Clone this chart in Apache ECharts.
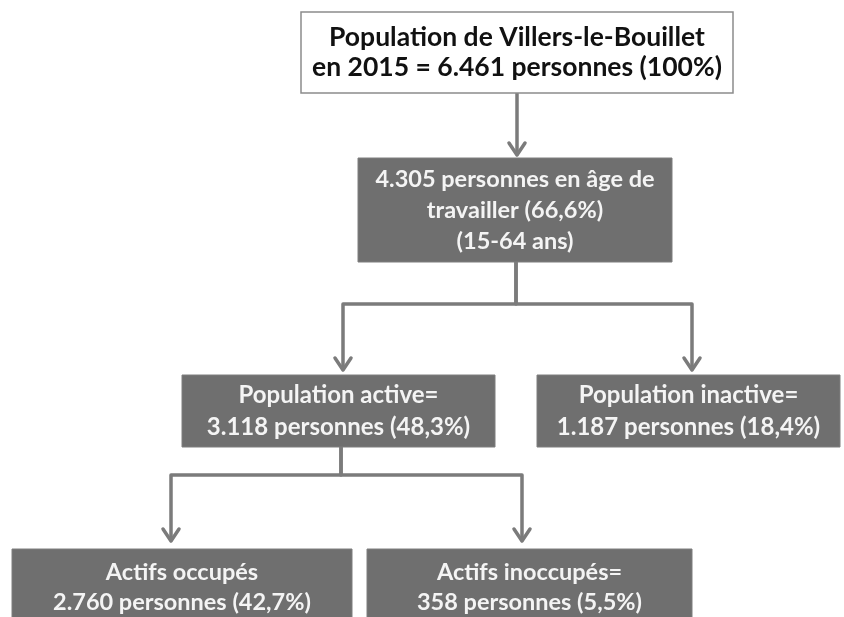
<!DOCTYPE html>
<html>
<head>
<meta charset="utf-8">
<script src="https://cdn.jsdelivr.net/npm/echarts@6/dist/echarts.min.js"></script>
<style>
  html, body { margin: 0; padding: 0; background: #fff; }
  #chart { width: 844px; height: 617px; }
</style>
</head>
<body>
<div id="chart"></div>
<script>
// donnees
var nodePersons = ['6.461', '4.305', '3.118', '1.187', '2.760', '358'];
var nodeShares = ['100%', '66,6%', '48,3%', '18,4%', '42,7%', '5,5%'];
var nodeLabels = [
  'Population de Villers-le-Bouillet\nen 2015 = {p} personnes ({s})',
  '{p} personnes en âge de\ntravailler ({s})\n(15-64 ans)',
  'Population active=\n{p} personnes ({s})',
  'Population inactive=\n{p} personnes ({s})',
  'Actifs occupés\n{p} personnes ({s})',
  'Actifs inoccupés=\n{p} personnes ({s})'
];
var links = [[0, 1], [1, 2], [1, 3], [2, 4], [2, 5]];

// mise en page (unites des axes = pixels)
var boxLayout = [
  [301, 12, 733, 93],
  [358, 158, 672, 262],
  [182, 375, 495, 447],
  [537, 375, 840, 447],
  [12, 549, 352, 625],
  [367, 549, 692, 625]
];
var dropX = [517, 516, 341];
var busY = [null, 304, 475];
var tipX = [null, 517, 343, 692, 171, 522];
var tipY = [null, 155, 370, 370, 541, 541];
var fontSizes = [26.5, 23.5, 24, 24, 23.5, 23.5];
var lineHeights = [30, 31, 32, 32, 30, 30];
var fontFamily = 'Lato, "Open Sans", sans-serif';

function labelText(i) {
  return nodeLabels[i].replace('{p}', nodePersons[i]).replace('{s}', nodeShares[i]);
}

function renderBox(params, api) {
  var i = params.dataIndex;
  var p0 = api.coord([api.value(0), api.value(1)]);
  var p1 = api.coord([api.value(2), api.value(3)]);
  var isTop = i === 0;
  return {
    type: 'group',
    children: [{
      type: 'rect',
      shape: { x: p0[0], y: p0[1], width: p1[0] - p0[0], height: p1[1] - p0[1] },
      style: {
        fill: isTop ? '#ffffff' : '#6f6f6f',
        stroke: isTop ? '#8c8c8c' : '#7e7e7e',
        lineWidth: isTop ? 1.5 : 1
      }
    }, {
      type: 'text',
      style: {
        text: labelText(i),
        x: (p0[0] + p1[0]) / 2,
        y: (p0[1] + p1[1]) / 2,
        align: 'center',
        verticalAlign: 'middle',
        fill: isTop ? '#111111' : '#f4f4f4',
        fontSize: fontSizes[i],
        fontWeight: 'bold',
        fontFamily: fontFamily,
        lineHeight: lineHeights[i]
      }
    }]
  };
}

function renderLink(params, api) {
  var px = api.value(0), py = api.value(1), by = api.value(2), cx = api.value(3), ty = api.value(4);
  var pts = [[px, py], [px, by], [cx, by], [cx, ty - 1]].map(function (p) { return api.coord(p); });
  var head = [[cx - 8, ty - 12], [cx, ty], [cx + 8, ty - 12]].map(function (p) { return api.coord(p); });
  var st = { stroke: '#7b7b7b', lineWidth: 3.5, fill: null, lineJoin: 'round', lineCap: 'round' };
  return {
    type: 'group',
    children: [
      { type: 'polyline', shape: { points: pts }, style: st },
      { type: 'polyline', shape: { points: head }, style: st }
    ]
  };
}

var linkData = links.map(function (l) {
  var p = l[0], c = l[1];
  var py = boxLayout[p][3];
  var by = busY[p] != null ? busY[p] : (py + tipY[c]) / 2;
  return [dropX[p], py, by, tipX[c], tipY[c]];
});

var chart = echarts.init(document.getElementById('chart'));
chart.setOption({
  animation: false,
  backgroundColor: '#ffffff',
  grid: { left: 0, right: 0, top: 0, bottom: 0 },
  xAxis: { type: 'value', min: 0, max: 844, show: false },
  yAxis: { type: 'value', min: 0, max: 617, inverse: true, show: false },
  series: [{
    type: 'custom',
    renderItem: renderLink,
    data: linkData,
    clip: false
  }, {
    type: 'custom',
    renderItem: renderBox,
    data: boxLayout,
    clip: false
  }]
});
</script>
</body>
</html>
